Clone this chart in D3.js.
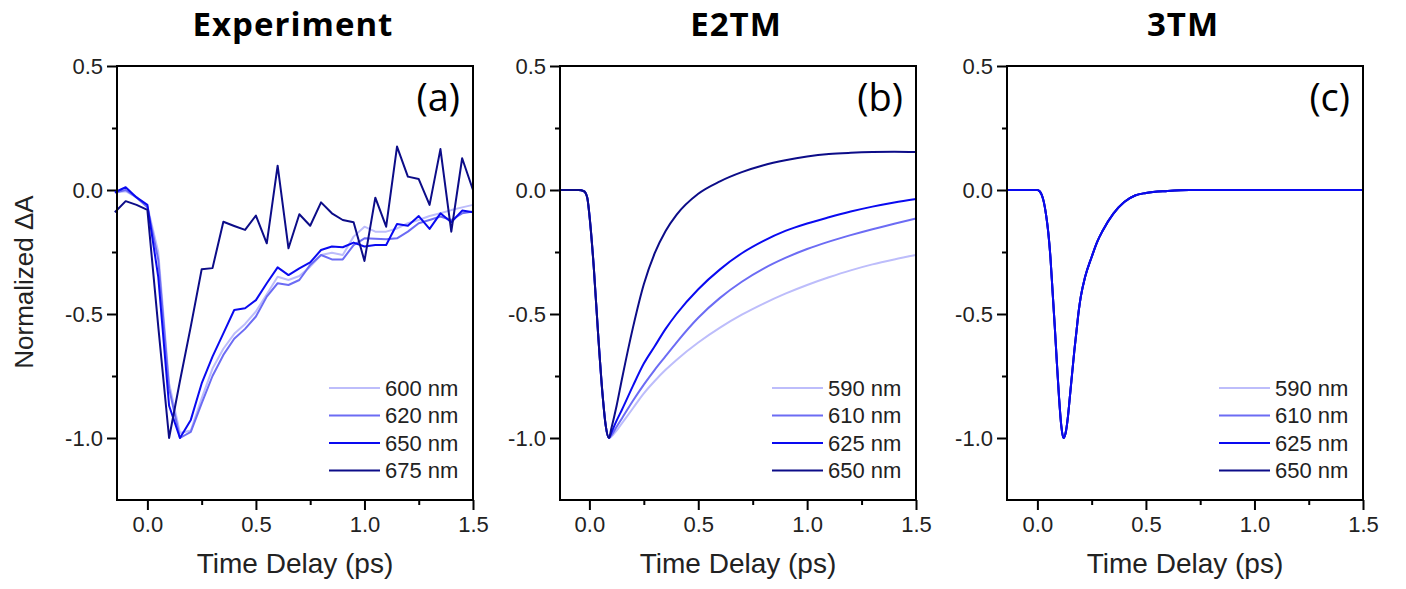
<!DOCTYPE html>
<html>
<head>
<meta charset="utf-8">
<title>Normalized transient absorption</title>
<script src="https://d3js.org/d3.v7.min.js"></script>
<style>
  body { margin: 0; background: #fff; }
  svg { display: block; }
  .tick text { font-family: "Liberation Sans", Arial, sans-serif; font-size: 22px; fill: #222; }
  .tick line { stroke: #000; stroke-width: 2px; }
</style>
</head>
<body>
<svg id="viz" width="1406" height="589"></svg>
<script>
// ---- data ----
var expTime = [-0.15,-0.1,-0.05,0,0.05,0.1,0.15,0.2,0.25,0.3,0.35,0.4,0.45,0.5,0.55,0.6,0.65,0.7,0.75,0.8,0.85,0.9,0.95,1.0,1.05,1.1,1.15,1.2,1.25,1.3,1.35,1.4,1.45,1.5];
var exp600 = [-0.01,-0.005,-0.03,-0.065,-0.25,-0.78,-0.98,-0.97,-0.84,-0.72,-0.64,-0.58,-0.54,-0.49,-0.42,-0.35,-0.363,-0.347,-0.309,-0.262,-0.253,-0.262,-0.188,-0.148,-0.168,-0.168,-0.155,-0.134,-0.121,-0.105,-0.094,-0.081,-0.07,-0.06];
var exp620 = [-0.01,0.0,-0.03,-0.07,-0.28,-0.8,-1.0,-0.975,-0.86,-0.75,-0.665,-0.6,-0.56,-0.51,-0.43,-0.376,-0.383,-0.363,-0.302,-0.262,-0.28,-0.28,-0.222,-0.195,-0.197,-0.199,-0.195,-0.168,-0.134,-0.121,-0.107,-0.121,-0.094,-0.087];
var exp650 = [-0.009,0.011,-0.03,-0.06,-0.35,-0.87,-1.0,-0.927,-0.78,-0.672,-0.578,-0.484,-0.477,-0.444,-0.376,-0.312,-0.343,-0.316,-0.292,-0.242,-0.228,-0.231,-0.212,-0.228,-0.222,-0.222,-0.137,-0.144,-0.105,-0.157,-0.094,-0.13,-0.083,-0.09];
var exp675 = [-0.09,-0.045,-0.06,-0.08,-0.55,-1.0,-0.77,-0.55,-0.32,-0.315,-0.128,-0.145,-0.161,-0.103,-0.215,0.098,-0.235,-0.098,-0.144,-0.05,-0.094,-0.121,-0.13,-0.286,-0.031,-0.148,0.175,0.054,0.044,-0.06,0.165,-0.168,0.128,0.0];

var e2tmTime = [-0.14,-0.05,-0.025,-0.01,0,0.02,0.04,0.06,0.075,0.09,0.1,0.125,0.15,0.2,0.25,0.3,0.35,0.4,0.5,0.6,0.7,0.8,0.9,1.0,1.1,1.2,1.3,1.4,1.5];
var e2tm590 = [0,0,-0.005,-0.03,-0.1,-0.31,-0.58,-0.82,-0.95,-1.0,-0.995,-0.97,-0.94,-0.88,-0.82,-0.77,-0.725,-0.685,-0.615,-0.555,-0.503,-0.458,-0.418,-0.383,-0.352,-0.324,-0.3,-0.28,-0.262];
var e2tm610 = [0,0,-0.005,-0.03,-0.1,-0.31,-0.58,-0.82,-0.95,-1.0,-0.99,-0.955,-0.92,-0.85,-0.785,-0.725,-0.67,-0.615,-0.515,-0.435,-0.37,-0.317,-0.274,-0.238,-0.208,-0.182,-0.158,-0.136,-0.115];
var e2tm625 = [0,0,-0.005,-0.03,-0.1,-0.31,-0.58,-0.82,-0.95,-1.0,-0.98,-0.93,-0.885,-0.79,-0.70,-0.63,-0.56,-0.5,-0.4,-0.32,-0.255,-0.205,-0.165,-0.135,-0.11,-0.087,-0.067,-0.05,-0.036];
var e2tm650 = [0,0,-0.005,-0.03,-0.1,-0.31,-0.58,-0.82,-0.95,-1.0,-0.965,-0.87,-0.76,-0.555,-0.38,-0.255,-0.165,-0.1,-0.015,0.035,0.072,0.1,0.12,0.135,0.145,0.15,0.153,0.154,0.153];

var tm3Time = [-0.14,0,0.01,0.02,0.03,0.04,0.05,0.06,0.07,0.08,0.09,0.1,0.11,0.12,0.13,0.14,0.15,0.16,0.17,0.18,0.19,0.2,0.22,0.25,0.275,0.3,0.35,0.4,0.45,0.5,0.6,0.7,1.5];
var tm3Val = [0,0,-0.005,-0.02,-0.05,-0.1,-0.17,-0.27,-0.41,-0.55,-0.70,-0.84,-0.95,-1.0,-0.98,-0.92,-0.83,-0.74,-0.65,-0.57,-0.49,-0.43,-0.35,-0.27,-0.21,-0.165,-0.095,-0.048,-0.022,-0.012,-0.004,0,0];

var expLabels = ["600 nm","620 nm","650 nm","675 nm"];
var modelLabels = ["590 nm","610 nm","625 nm","650 nm"];
var colors = ["#bdbdfb","#6c6cf4","#0a0af0","#0c0c88"];

var yMajor = [-1.0,-0.5,0.0,0.5];
var yMinor = [-0.75,-0.25,0.25];
var xMajor = [0.0,0.5,1.0,1.5];
var xMinor = [0.25,0.75,1.25];

// ---- layout ----
var plotTop = 66, plotBottom = 500, pw = 356;
var svg = d3.select("#viz");
var fmt = function(d){ return d.toFixed(1); };

var panels = [
  {left:117, xmin:-0.14, title:"Experiment", tag:"(a)", labels:expLabels, curve:d3.curveLinear,
   series:[{t:expTime,v:exp600},{t:expTime,v:exp620},{t:expTime,v:exp650},{t:expTime,v:exp675}], order:[0,1,2,3]},
  {left:560, xmin:-0.135, title:"E2TM", tag:"(b)", labels:modelLabels, curve:d3.curveMonotoneX,
   series:[{t:e2tmTime,v:e2tm590},{t:e2tmTime,v:e2tm610},{t:e2tmTime,v:e2tm625},{t:e2tmTime,v:e2tm650}], order:[0,1,2,3]},
  {left:1007, xmin:-0.14, title:"3TM", tag:"(c)", labels:modelLabels, curve:d3.curveMonotoneX,
   series:[{t:tm3Time,v:tm3Val},{t:tm3Time,v:tm3Val},{t:tm3Time,v:tm3Val},{t:tm3Time,v:tm3Val}], order:[0,1,3,2]}
];

panels.forEach(function(p){
  var x = d3.scaleLinear().domain([p.xmin,1.5]).range([p.left,p.left+pw]);
  var y = d3.scaleLinear().domain([-1.25,0.5]).range([plotBottom,plotTop]);
  var g = svg.append("g");

  // minor + major ticks
  g.append("g").attr("transform","translate(0,"+plotBottom+")")
    .call(d3.axisBottom(x).tickValues(xMinor).tickSize(5).tickFormat(""));
  g.append("g").attr("transform","translate(0,"+plotBottom+")")
    .call(d3.axisBottom(x).tickValues(xMajor).tickSize(10).tickPadding(6).tickFormat(fmt));
  g.append("g").attr("transform","translate("+p.left+",0)")
    .call(d3.axisLeft(y).tickValues(yMinor).tickSize(5).tickFormat(""));
  g.append("g").attr("transform","translate("+p.left+",0)")
    .call(d3.axisLeft(y).tickValues(yMajor).tickSize(10).tickPadding(4).tickFormat(fmt));
  g.selectAll(".domain").remove();

  // lines
  var line = d3.line().curve(p.curve)
    .x(function(d){ return x(d[0]); })
    .y(function(d){ return y(d[1]); });
  p.order.forEach(function(i){
    var s = p.series[i];
    var pts = s.t.map(function(t,k){ return [t,s.v[k]]; });
    g.append("path").datum(pts)
      .attr("d",line).attr("fill","none")
      .attr("stroke",colors[i]).attr("stroke-width",2)
      .attr("stroke-linejoin","round");
  });

  // frame
  g.append("rect").attr("x",p.left).attr("y",plotTop).attr("width",pw).attr("height",plotBottom-plotTop)
    .attr("fill","none").attr("stroke","#000").attr("stroke-width",2);

  // legend
  var leg = g.append("g").attr("transform","translate("+(p.left+212)+",388)");
  p.labels.forEach(function(lab,i){
    leg.append("line").attr("x1",0).attr("x2",51).attr("y1",i*27.5).attr("y2",i*27.5)
      .attr("stroke",colors[i]).attr("stroke-width",2);
    leg.append("text").attr("x",56).attr("y",i*27.5).attr("dy","0.35em")
      .style("font-family","Liberation Sans, Arial, sans-serif").style("font-size","22px")
      .attr("fill","#222").text(lab);
  });

  // panel tag
  g.append("text").attr("x",p.left+pw-13).attr("y",111).attr("text-anchor","end")
    .style("font-family","Open Sans, sans-serif").style("font-size","38px")
    .attr("fill","#000").text(p.tag);

  // title
  g.append("text").attr("x",p.left+pw/2-2).attr("y",36).attr("text-anchor","middle")
    .style("font-family","Open Sans, sans-serif").style("font-weight","bold").style("font-size","33px")
    .style("letter-spacing","1px")
    .attr("fill","#000").text(p.title);

  // x axis title
  g.append("text").attr("x",p.left+pw/2).attr("y",573).attr("text-anchor","middle")
    .style("font-family","Liberation Sans, Arial, sans-serif").style("font-size","28px")
    .attr("fill","#222").text("Time Delay (ps)");
});

// y axis title
svg.append("text").attr("transform","translate(33,282) rotate(-90)").attr("text-anchor","middle")
  .style("font-family","Liberation Sans, Arial, sans-serif").style("font-size","26px")
  .attr("fill","#222").text("Normalized \u0394A");
</script>
</body>
</html>
